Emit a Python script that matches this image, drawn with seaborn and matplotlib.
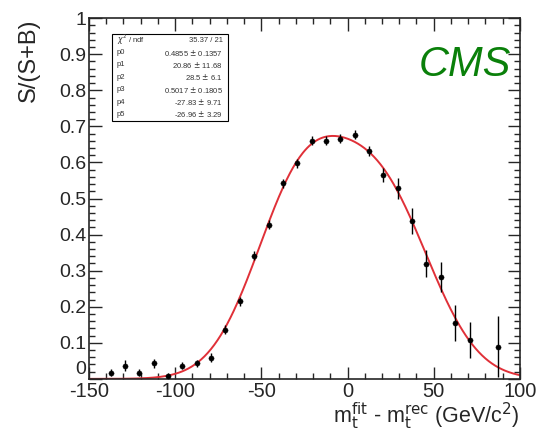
import numpy as np
import pandas as pd
import seaborn as sns
import matplotlib.pyplot as plt
from matplotlib.ticker import MultipleLocator, FuncFormatter

# S/(S+B) versus m_t^fit - m_t^rec, with the double gaussian fit

bin_centres = [-137.5, -129.2, -120.8, -112.5, -104.2, -95.8, -87.5, -79.2,
               -70.8, -62.5, -54.2, -45.8, -37.5, -29.2, -20.8, -12.5, -4.2,
               4.2, 12.5, 20.8, 29.2, 37.5, 45.8, 54.2, 62.5, 70.8, 87.5]
purity = [0.017, 0.037, 0.017, 0.043, 0.008, 0.036, 0.043, 0.059,
          0.136, 0.215, 0.342, 0.428, 0.542, 0.598, 0.660, 0.660, 0.666,
          0.677, 0.632, 0.566, 0.528, 0.438, 0.319, 0.283, 0.156, 0.108, 0.089]
purity_err = [0.010, 0.015, 0.010, 0.013, 0.008, 0.010, 0.010, 0.012,
              0.012, 0.013, 0.013, 0.013, 0.012, 0.012, 0.012, 0.012, 0.012,
              0.012, 0.015, 0.020, 0.028, 0.035, 0.037, 0.042, 0.050, 0.050, 0.085]

# fit parameters as printed in the stats box
fit_names = ['p0', 'p1', 'p2', 'p3', 'p4', 'p5']
fit_values = [0.4855, 20.86, 28.5, 0.5017, -27.83, -26.96]
fit_errors = ['0.1357', '11.68', '6.1', '0.1805', '9.71', '3.29']
fit_value_txt = ['0.4855', '20.86', '28.5', '0.5017', '-27.83', '-26.96']
chi2_txt = '35.37 / 21'

df = pd.DataFrame({'x': bin_centres, 'y': purity, 'err': purity_err})


def double_gaus(x, p):
    g1 = p[0] * np.exp(-0.5 * ((x - p[1]) / p[2]) ** 2)
    g2 = p[3] * np.exp(-0.5 * ((x - p[4]) / p[5]) ** 2)
    return g1 + g2


xs = np.linspace(-150, 100, 400)
fit = pd.DataFrame({'x': xs, 'y': double_gaus(xs, fit_values)})

sns.set_style('ticks')
plt.rcParams['font.family'] = ['Liberation Sans', 'DejaVu Sans']
plt.rcParams['axes.unicode_minus'] = False

fig = plt.figure(figsize=(5.36, 4.33), dpi=100)
ax = fig.add_axes([0.166, 0.125, 0.804, 0.833])

sns.lineplot(data=fit, x='x', y='y', ax=ax, color='#e03038', linewidth=1.4)
ax.errorbar(df['x'], df['y'], yerr=df['err'], fmt='none', ecolor='black',
            elinewidth=1.0, capsize=0, zorder=3)
sns.scatterplot(data=df, x='x', y='y', ax=ax, color='black', s=14,
                edgecolor='black', zorder=4)

ax.set_xlim(-150, 100)
ax.set_ylim(0, 1)
ax.xaxis.set_major_locator(MultipleLocator(50))
ax.xaxis.set_minor_locator(MultipleLocator(10))
ax.yaxis.set_major_locator(MultipleLocator(0.1))
ax.yaxis.set_minor_locator(MultipleLocator(0.02))
# the "0" is drawn separately, a little higher, so it clears the "-150"
ax.yaxis.set_major_formatter(FuncFormatter(lambda v, p: '' if abs(v) < 1e-9 else f'{v:g}'))
ax.tick_params(which='both', direction='in', top=True, right=True,
               pad=2, width=1.0)
ax.tick_params(axis='x', labelsize=14.5)
ax.tick_params(axis='y', labelsize=14)
ax.tick_params(which='major', length=9)
ax.tick_params(which='minor', length=4)
for s in ax.spines.values():
    s.set_linewidth(1.2)

ax.text(-151.5, 0.002, '0', fontsize=14, ha='right', va='bottom')

ax.set_xlabel(r'm$_{\rm t}^{\rm fit}$ - m$_{\rm t}^{\rm rec}$ (GeV/c$^{2}$)',
              fontsize=15.5, loc='right', labelpad=0)
ax.set_ylabel('S/(S+B)', fontsize=17, loc='top', labelpad=14)

# stats box
box_x0, box_y0, box_w, box_h = 0.053, 0.716, 0.270, 0.24
ax.add_patch(plt.Rectangle((box_x0, box_y0), box_w, box_h, transform=ax.transAxes,
                           fill=True, facecolor='white', edgecolor='black',
                           linewidth=0.8, zorder=5))
rows = [(r'$\chi^2$ / ndf', chi2_txt)] + \
       [(n, f'{v} $\\pm$ {e}') for n, v, e in zip(fit_names, fit_value_txt, fit_errors)]
step = box_h / len(rows)
for i, (lab, val) in enumerate(rows):
    yy = box_y0 + box_h - step * (i + 0.5)
    ax.text(box_x0 + 0.012, yy, lab, transform=ax.transAxes, fontsize=5.5,
            va='center', ha='left', color='#333333', zorder=6)
    ax.text(box_x0 + box_w - 0.012, yy, val, transform=ax.transAxes, fontsize=5.5,
            va='center', ha='right', color='#333333', zorder=6)

ax.text(0.98, 0.87, 'CMS', transform=ax.transAxes, fontsize=30,
        style='italic', color='#0a800a', ha='right', va='center')

fig.savefig('out.png', dpi=100)
